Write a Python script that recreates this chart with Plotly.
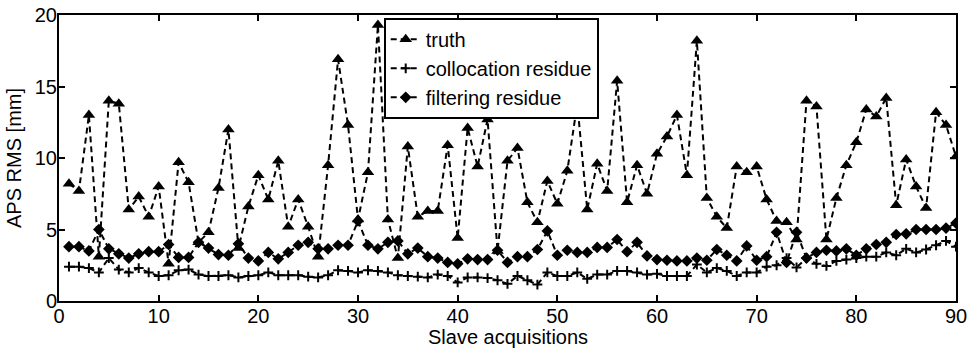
import plotly.graph_objects as go

# Slave acquisition index
acq = list(range(1, 91))

# APS RMS [mm] per acquisition
truth = [8.2, 7.7, 13.0, 3.1, 14.0, 13.8, 6.4, 7.3, 5.9, 8.0,
         2.6, 9.7, 8.3, 4.1, 4.8, 7.9, 12.0, 3.7, 6.6, 8.8,
         7.1, 9.8, 5.2, 7.1, 5.2, 3.1, 9.5, 16.9, 12.3, 5.7,
         9.0, 19.3, 5.7, 3.0, 10.8, 5.9, 6.3, 6.3, 10.9, 4.4,
         12.1, 9.4, 12.7, 3.5, 9.8, 10.7, 6.9, 5.5, 8.4, 6.8,
         9.1, 13.8, 6.4, 9.6, 7.7, 15.4, 6.9, 9.5, 7.5, 10.3,
         11.5, 13.0, 8.8, 18.2, 7.2, 5.9, 5.1, 9.4, 9.0, 9.4,
         7.1, 5.6, 5.5, 4.3, 14.0, 13.6, 4.3, 7.2, 9.5, 11.1,
         13.4, 12.9, 14.2, 6.7, 9.9, 8.0, 6.5, 13.2, 12.3, 10.1]

collocation = [2.4, 2.4, 2.3, 2.0, 3.0, 2.2, 2.0, 2.3, 2.0, 1.75,
               1.8, 2.15, 2.2, 1.85, 1.75, 1.75, 1.8, 1.65, 1.75, 1.8,
               2.0, 1.8, 1.8, 1.8, 1.7, 1.65, 1.8, 2.15, 2.1, 2.0,
               2.15, 2.1, 2.0, 1.8, 1.75, 1.7, 1.65, 1.85, 1.75, 1.3,
               1.65, 1.65, 1.6, 1.45, 1.2, 1.75, 1.45, 1.15, 2.0, 1.75,
               1.75, 2.0, 1.55, 1.85, 1.85, 2.1, 2.1, 2.0, 1.85, 1.9,
               1.75, 1.75, 1.75, 2.55, 2.0, 2.3, 2.1, 1.75, 2.0, 2.0,
               2.4, 2.5, 3.0, 2.35, 3.0, 2.6, 2.45, 2.8, 2.9, 3.0,
               3.1, 3.1, 3.4, 3.2, 3.65, 3.4, 3.6, 3.9, 4.2, 3.8]

filtering = [3.8, 3.8, 3.5, 5.0, 3.65, 3.3, 3.0, 3.3, 3.45, 3.45,
             3.95, 3.05, 3.05, 4.1, 3.7, 3.25, 3.2, 4.0, 3.0, 2.8,
             3.4, 2.95, 3.4, 3.9, 4.1, 3.65, 3.65, 3.9, 3.9, 5.6,
             3.9, 3.65, 4.1, 4.2, 3.3, 3.7, 3.1, 3.0, 2.7, 2.6,
             2.95, 2.9, 2.9, 3.55, 2.7, 3.1, 3.1, 3.6, 4.9, 3.2,
             3.55, 3.4, 3.4, 3.75, 3.75, 4.3, 3.45, 4.1, 3.15, 2.9,
             2.85, 2.8, 2.8, 3.0, 2.85, 3.6, 3.2, 2.8, 3.85, 2.85,
             3.1, 4.8, 2.7, 4.8, 3.0, 3.4, 3.55, 3.5, 3.65, 3.2,
             3.65, 3.95, 4.1, 4.65, 4.7, 5.0, 5.0, 5.0, 5.1, 5.45]

x_ticks = [0, 10, 20, 30, 40, 50, 60, 70, 80, 90]
y_ticks = [0, 5, 10, 15, 20]

FONT = "Liberation Sans, Arial, Helvetica, sans-serif"
FS = 20
DASH = "6px,4px"

fig = go.Figure()
fig.add_trace(go.Scatter(
    x=acq, y=truth, name="truth", mode="lines+markers",
    line=dict(color="black", width=2, dash=DASH),
    marker=dict(symbol="triangle-up", size=11, color="black"),
))
fig.add_trace(go.Scatter(
    x=acq, y=collocation, name="collocation residue", mode="lines+markers",
    line=dict(color="black", width=2, dash=DASH),
    marker=dict(symbol="cross-thin-open", size=7, color="black",
                line=dict(color="black", width=2)),
))
fig.add_trace(go.Scatter(
    x=acq, y=filtering, name="filtering residue", mode="lines+markers",
    line=dict(color="black", width=2, dash=DASH),
    marker=dict(symbol="diamond", size=9, color="black"),
))

axis_common = dict(
    showgrid=False, zeroline=False, showline=True, mirror="allticks",
    linecolor="black", linewidth=2, ticks="inside", ticklen=6,
    tickwidth=1.5, tickcolor="black", automargin=False,
    tickfont=dict(family=FONT, size=FS, color="black"),
)

fig.update_layout(
    width=971, height=349,
    margin=dict(l=59, r=15, t=15, b=48),
    paper_bgcolor="white", plot_bgcolor="white",
    font=dict(family=FONT, size=FS, color="black"),
    xaxis=dict(range=[0, 90], tickvals=x_ticks, ticklabelstandoff=-4,
               **axis_common),
    yaxis=dict(range=[0, 20], tickvals=y_ticks, ticklabelstandoff=-4,
               **axis_common,
               title=dict(text="APS RMS [mm]", standoff=8,
                          font=dict(family=FONT, size=FS))),
    legend=dict(x=0.362, y=0.99, xanchor="left", yanchor="top",
                bgcolor="white", bordercolor="black", borderwidth=2,
                font=dict(family=FONT, size=FS), tracegroupgap=0,
                itemwidth=30),
    showlegend=True,
)

# x-axis title placed just under the tick labels
fig.add_annotation(
    text="Slave acquisitions", xref="paper", yref="paper",
    x=0.5, y=-0.125, xanchor="center", yanchor="middle",
    showarrow=False, font=dict(family=FONT, size=FS, color="black"),
)

fig.write_html("out.html")
